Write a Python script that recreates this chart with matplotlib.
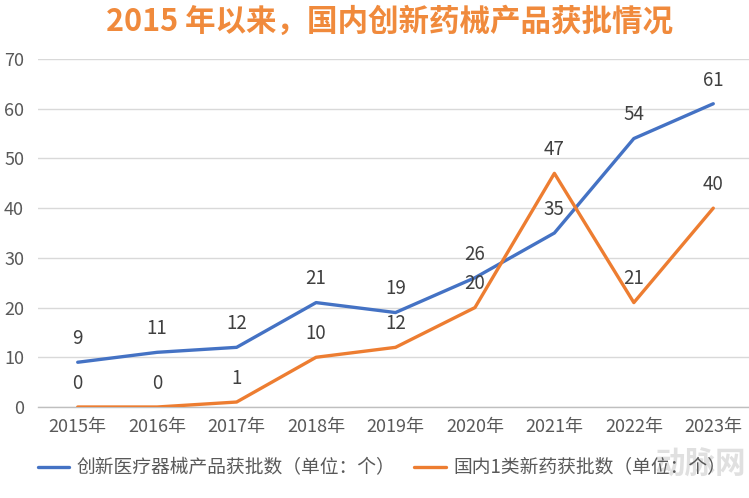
import matplotlib
matplotlib.use("Agg")
import matplotlib.pyplot as plt

plt.rcParams['font.family'] = ['Noto Sans CJK SC', 'DejaVu Sans']

# 数据
years = ["2015年", "2016年", "2017年", "2018年", "2019年", "2020年", "2021年", "2022年", "2023年"]
device_counts = [9, 11, 12, 21, 19, 26, 35, 54, 61]
drug_counts = [0, 0, 1, 10, 12, 20, 47, 21, 40]
device_label = "创新医疗器械产品获批数（单位：个）"
drug_label = "国内1类新药获批数（单位：个）"
title = "2015 年以来，国内创新药械产品获批情况"

BLUE = "#4472C4"
ORANGE = "#ED7D31"
GRAY = "#595959"

fig = plt.figure(figsize=(7.49, 4.98), dpi=100)
ax = fig.add_axes([38 / 749, 1 - 407 / 498, 715 / 749, (407 - 59) / 498])

x = list(range(len(years)))
ax.plot(x, device_counts, color=BLUE, lw=2.4, solid_capstyle="round", label=device_label, zorder=3)
ax.plot(x, drug_counts, color=ORANGE, lw=2.4, solid_capstyle="round", label=drug_label, zorder=3)

# 数据标签（在点上方）
for xi, v in zip(x, device_counts):
    ax.annotate(str(v), (xi, v), xytext=(0, 17), textcoords="offset points",
                ha="center", va="center", fontsize=13.5, color="#404040")
for xi, v in zip(x, drug_counts):
    ax.annotate(str(v), (xi, v), xytext=(0, 17), textcoords="offset points",
                ha="center", va="center", fontsize=13.5, color="#404040")

ax.set_xlim(-0.5, len(years) - 0.5)
ax.set_ylim(0, 70)
ax.set_yticks(range(0, 71, 10))
ax.set_xticks(x)
ax.set_xticklabels(years)
ax.tick_params(axis="both", length=0, labelsize=13, labelcolor=GRAY)
ax.tick_params(axis="x", pad=8)
ax.tick_params(axis="y", pad=10)
ax.grid(axis="y", color="#D9D9D9", lw=1)
ax.set_axisbelow(True)
for s in ["top", "right", "left"]:
    ax.spines[s].set_visible(False)
ax.spines["bottom"].set_color("#BFBFBF")
ax.spines["bottom"].set_linewidth(1)

fig.text(390 / 749, 1 - 22 / 498, title, ha="center", va="center",
         fontsize=22, fontweight="bold", color="#F08A3C")

leg = fig.legend(loc="center left", bbox_to_anchor=(30 / 749, 1 - 468 / 498), ncol=2,
                 frameon=False, fontsize=13.5, handlelength=1.7, columnspacing=1.0,
                 handletextpad=0.4, borderaxespad=0)
for t in leg.get_texts():
    t.set_color(GRAY)

# 水印
fig.text(700 / 749, 1 - 465 / 498, "动脉网", ha="center", va="center",
         fontsize=22, fontweight="bold", color="#CCCCCC", alpha=0.6)

fig.savefig("out.png", dpi=100)
